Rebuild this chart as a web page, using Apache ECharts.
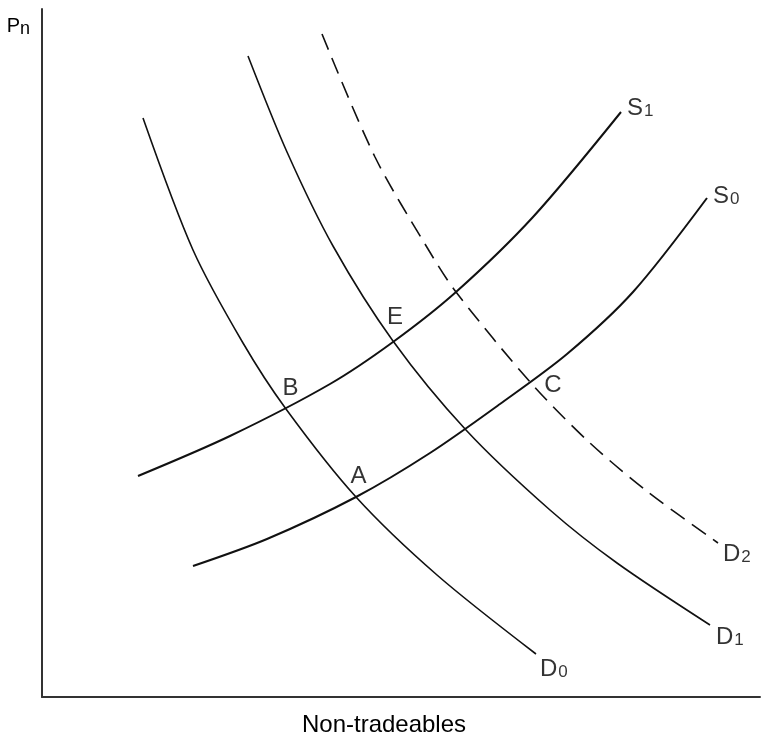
<!DOCTYPE html>
<html>
<head>
<meta charset="utf-8">
<script src="https://cdn.jsdelivr.net/npm/echarts@6/dist/echarts.min.js"></script>
<style>
html,body{margin:0;padding:0;background:#fff;}
#chart{width:763px;height:735px;}
</style>
</head>
<body>
<div id="chart"></div>
<script>
// Curve data (quantity of non-tradeables, price Pn)
const d0X = [101, 151, 201, 244, 314, 395, 494];
const d0Y = [579, 447, 354, 288, 200, 122, 43];

const d1X = [206, 245, 291, 351, 424, 508, 575, 668];
const d1Y = [641, 545, 451, 356, 267, 187, 134, 72];

const d2X = [280, 333, 386, 414, 489, 548, 606, 676];
const d2Y = [663, 540, 448, 405, 314, 254, 205, 154];

const s1X = [96, 188, 288, 351, 414, 491, 579];
const s1Y = [221, 261, 313, 355, 405, 480, 585];

const s0X = [151, 225, 314, 388, 458, 525, 591, 665];
const s0Y = [131, 158, 200, 244, 293, 343, 405, 499];

// Curve names (main letter + subscript)
const curveNames = ['D', 'D', 'D', 'S', 'S'];
const curveSubs = ['0', '1', '2', '1', '0'];

// Equilibrium points
const pointNames = ['A', 'B', 'C', 'E'];
const pointX = [314, 244, 489, 351];
const pointY = [200, 288, 314, 355];

// Axis titles
const yTitle = 'P';
const yTitleSub = 'n';
const xTitle = 'Non-tradeables';

const FONT = '"Liberation Sans", Arial, Helvetica, sans-serif';
const INK = '#000';
const zip = (xs, ys) => xs.map((x, i) => [x, ys[i]]);

const curves = [zip(d0X, d0Y), zip(d1X, d1Y), zip(d2X, d2Y), zip(s1X, s1Y), zip(s0X, s0Y)];
const curveStyles = [
  { width: 1.6, type: 'solid' },
  { width: 1.6, type: 'solid' },
  { width: 1.6, type: [17, 9] },
  { width: 2, type: 'solid' },
  { width: 2, type: 'solid' }
];
// label offsets relative to curve end (style only)
const curveLabelOffsets = [[4, 15], [6, 12], [5, 11], [6, -4], [6, -2]];
const pointLabelOffsets = [[2.5, -20.5], [4.5, -20.5], [22, 2.5], [2, -25]];

const rich = {
  m: { fontSize: 24, fontFamily: FONT, color: INK, lineHeight: 24, verticalAlign: 'top' },
  s: { fontSize: 17, fontFamily: FONT, color: INK, lineHeight: 12, verticalAlign: 'bottom', padding: [0, 0, 0, 1] }
};
const richName = {
  pm: { fontSize: 20, fontFamily: FONT, color: INK, lineHeight: 22, verticalAlign: 'top' },
  ps: { fontSize: 18, fontFamily: FONT, color: INK, lineHeight: 14, verticalAlign: 'bottom' }
};

const series = curves.map((pts, i) => ({
  type: 'line',
  data: pts,
  smooth: 0.3,
  showSymbol: false,
  silent: true,
  lineStyle: { color: '#111', width: curveStyles[i].width, type: curveStyles[i].type },
  z: 2
}));

series.push({
  type: 'scatter',
  silent: true,
  symbolSize: 0,
  data: curves.map((pts, i) => ({
    value: pts[pts.length - 1],
    label: {
      show: true,
      position: 'inside',
      align: 'left',
      verticalAlign: 'middle',
      offset: curveLabelOffsets[i],
      formatter: '{m|' + curveNames[i] + '}{s|' + curveSubs[i] + '}',
      rich: rich
    }
  })),
  z: 3
});

series.push({
  type: 'scatter',
  silent: true,
  symbolSize: 0,
  data: pointNames.map((n, i) => ({
    value: [pointX[i], pointY[i]],
    label: {
      show: true,
      position: 'inside',
      align: 'center',
      verticalAlign: 'middle',
      offset: pointLabelOffsets[i],
      formatter: n,
      fontSize: 24,
      fontFamily: FONT,
      color: INK
    }
  })),
  z: 3
});

const axisLine = { show: true, lineStyle: { color: '#333', width: 2 } };

const option = {
  animation: false,
  backgroundColor: '#fff',
  grid: { left: 42, right: 3, top: 9, bottom: 38, containLabel: false, outerBoundsMode: 'none' },
  xAxis: {
    type: 'value', min: 0, max: 718,
    axisLine: axisLine, axisTick: { show: false }, axisLabel: { show: false }, splitLine: { show: false },
    name: xTitle, nameLocation: 'middle', nameGap: 16,
    nameTextStyle: { fontSize: 24, fontFamily: FONT, color: INK, padding: [0, 34, 0, 0] }
  },
  yAxis: {
    type: 'value', min: 0, max: 688,
    axisLine: axisLine, axisTick: { show: false }, axisLabel: { show: false }, splitLine: { show: false },
    name: '{pm|' + yTitle + '}{ps|' + yTitleSub + '}', nameLocation: 'end', nameGap: -7,
    nameTextStyle: { align: 'right', verticalAlign: 'top', padding: [0, 12, 0, 0], rich: richName }
  },
  series: series
};

const chart = echarts.init(document.getElementById('chart'));
chart.setOption(option);
</script>
</body>
</html>
